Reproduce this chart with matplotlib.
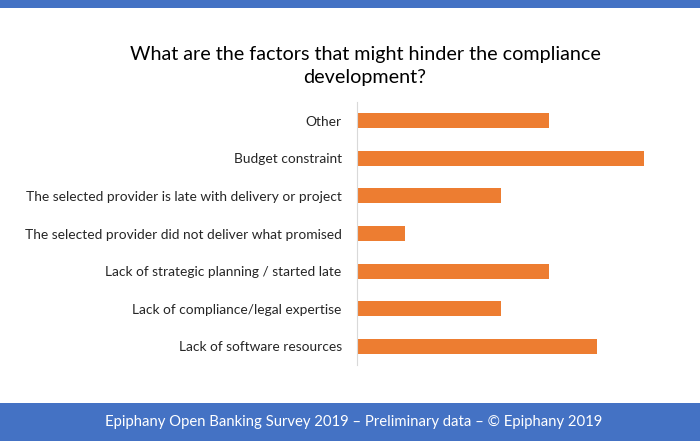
import matplotlib.pyplot as plt
from matplotlib.patches import Rectangle

categories = [
    "Other",
    "Budget constraint",
    "The selected provider is late with delivery or project",
    "The selected provider did not deliver what promised",
    "Lack of strategic planning / started late",
    "Lack of compliance/legal expertise",
    "Lack of software resources",
]
values = [4, 6, 3, 1, 4, 3, 5]

title = "What are the factors that might hinder the compliance\ndevelopment?"
footer = "Epiphany Open Banking Survey 2019 \u2013 Preliminary data \u2013 \u00a9 Epiphany 2019"

blue = "#4472C4"
orange = "#ED7D31"

plt.rcParams['font.family'] = ['Lato', 'DejaVu Sans']

fig = plt.figure(figsize=(7, 4.41), dpi=100)
fig.patch.set_facecolor("white")

# top and bottom bands
fig.add_artist(Rectangle((0, 1 - 8 / 441), 1, 8 / 441, transform=fig.transFigure,
                         facecolor=blue, edgecolor="none"))
fig.add_artist(Rectangle((0, 0), 1, 38 / 441, transform=fig.transFigure,
                         facecolor=blue, edgecolor="none"))
fig.text(354 / 700, 19 / 441, footer, color="white", fontsize=10.7, ha="center", va="center")

fig.text(365 / 700, 1 - 66 / 441, title, fontsize=14.2, ha="center", va="center",
         linespacing=1.45, color="black")

# axes: left at x=357px, top at y=102px, bottom at y=365px
ax = fig.add_axes([357 / 700, 1 - 365 / 441, 320 / 700, 263 / 441])
y = list(range(len(categories)))
ax.barh(y, values, height=0.4, color=orange)
ax.set_ylim(len(categories) - 0.5, -0.5)
ax.set_xlim(0, 320 / 47.9)
ax.set_yticks(y)
ax.set_yticklabels(categories, fontsize=9.9, color="#262626")
ax.tick_params(axis="y", length=0, pad=11)
ax.set_xticks([])
for s in ["top", "right", "bottom"]:
    ax.spines[s].set_visible(False)
ax.spines["left"].set_color("#D9D9D9")
ax.spines["left"].set_linewidth(0.8)

fig.savefig("out.png", dpi=100)
